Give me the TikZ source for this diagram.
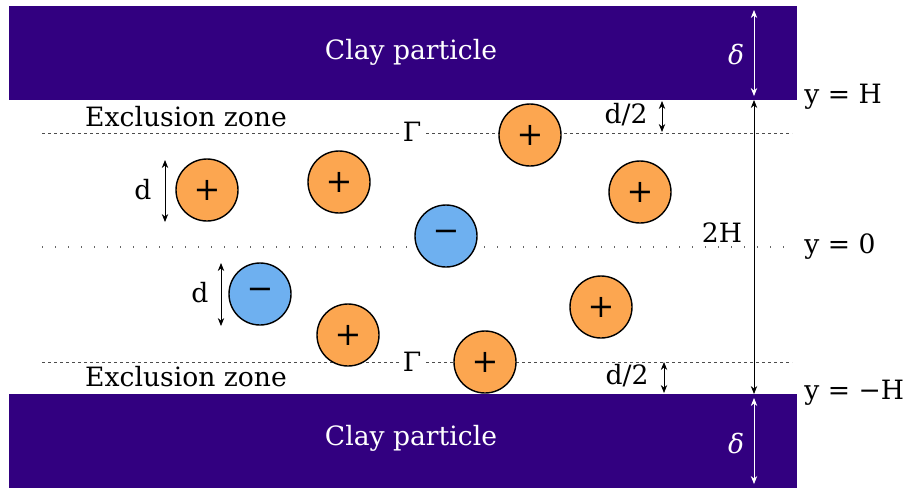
\documentclass[tikz,border=0pt]{standalone}
\usepackage{fontspec}
\setmainfont{DejaVu Serif}
\usetikzlibrary{arrows.meta}
\definecolor{clay}{RGB}{50,0,128}
\definecolor{cation}{RGB}{252,166,80}
\definecolor{anion}{RGB}{110,176,240}
\begin{document}
\begin{tikzpicture}[x=0.5pt,y=-0.5pt,
  txt/.style={font=\fontsize{13.3}{13.3}\selectfont, inner sep=0pt},
  ion/.style={circle, draw=black, line width=0.7pt, minimum size=31pt, inner sep=0pt, font=\fontsize{16}{16}\selectfont},
  posion/.style={ion, fill=cation},
  negion/.style={ion, fill=anion},
  dim/.style={{Stealth[length=4pt,width=3.2pt]}-{Stealth[length=4pt,width=3.2pt]}, line width=0.4pt},
  wdim/.style={dim, white},
  zoneline/.style={gray!60!black, line width=0.5pt, dash pattern=on 1.6pt off 1.4pt},
  midline/.style={gray!80!black, line width=0.6pt, dash pattern=on 0.6pt off 5.9pt},
  claybox/.style={fill=clay, draw=none}]
\useasboundingbox (0,0) rectangle (903,488);
% clay particles
\fill[claybox] (9,6) rectangle (797,100);
\fill[claybox] (9,394) rectangle (797,488);
\node[txt, text=white] (claytop) at (411,52) {Clay particle};
\node[txt, text=white] (claybot) at (411,438) {Clay particle};
\node[txt, text=white, font=\fontsize{13.3}{13.3}\selectfont\itshape] (deltatop) at (736,55) {δ};
\node[txt, text=white, font=\fontsize{13.3}{13.3}\selectfont\itshape] (deltabot) at (736,443) {δ};
\coordinate (dt1) at (754,10); \coordinate (dt2) at (754,96);
\coordinate (db1) at (754,398); \coordinate (db2) at (754,484);
\draw[wdim] (dt1) -- (dt2);
\draw[wdim] (db1) -- (db2);
% lines
\coordinate (zt1) at (42,133); \coordinate (zt2) at (792,133);
\coordinate (zb1) at (42,362); \coordinate (zb2) at (792,362);
\coordinate (m1) at (42,247); \coordinate (m2) at (786,247);
\draw[zoneline] (zt1) -- (zt2);
\draw[zoneline] (zb1) -- (zb2);
\draw[midline] (m1) -- (m2);
% Gamma labels
\node[txt, fill=white, inner sep=1pt] (gtop) at (412,132) {Γ};
\node[txt, fill=white, inner sep=1pt] (gbot) at (412,362) {Γ};
% exclusion zone labels
\node[txt] (eztop) at (186,117) {Exclusion zone};
\node[txt] (ezbot) at (186,377) {Exclusion zone};
% 2H
\coordinate (h1) at (754,100); \coordinate (h2) at (754,394);
\draw[dim] (h1) -- (h2);
\node[txt] (twoH) at (722,233) {2H};
% y labels
\node[txt, anchor=west] (yH) at (804,97) {y = H};
\node[txt, anchor=west] (y0) at (804,247) {y = 0};
\node[txt, anchor=west] (ymH) at (804,393) {y = −H};
% d/2
\coordinate (ht1) at (662,101); \coordinate (ht2) at (662,132);
\coordinate (hb1) at (664,362); \coordinate (hb2) at (664,393);
\draw[dim] (ht1) -- (ht2);
\draw[dim] (hb1) -- (hb2);
\node[txt] (dhtop) at (626,115) {d/2};
\node[txt] (dhbot) at (627,376) {d/2};
% d
\coordinate (d1a) at (165,160); \coordinate (d1b) at (165,222);
\coordinate (d2a) at (221,263); \coordinate (d2b) at (221,326);
\draw[dim] (d1a) -- (d1b);
\draw[dim] (d2a) -- (d2b);
\node[txt] (dlab1) at (143,190) {d};
\node[txt] (dlab2) at (200,293) {d};
% ions
\node[posion] (c1) at (207,190) {+};
\node[posion] (c2) at (339,182) {+};
\node[negion] (a1) at (446,236) {−};
\node[posion] (c3) at (530,135) {+};
\node[posion] (c4) at (640,192) {+};
\node[negion] (a2) at (260,294) {−};
\node[posion] (c5) at (348,335) {+};
\node[posion] (c6) at (485,362) {+};
\node[posion] (c7) at (601,307) {+};
\end{tikzpicture}
\end{document}
